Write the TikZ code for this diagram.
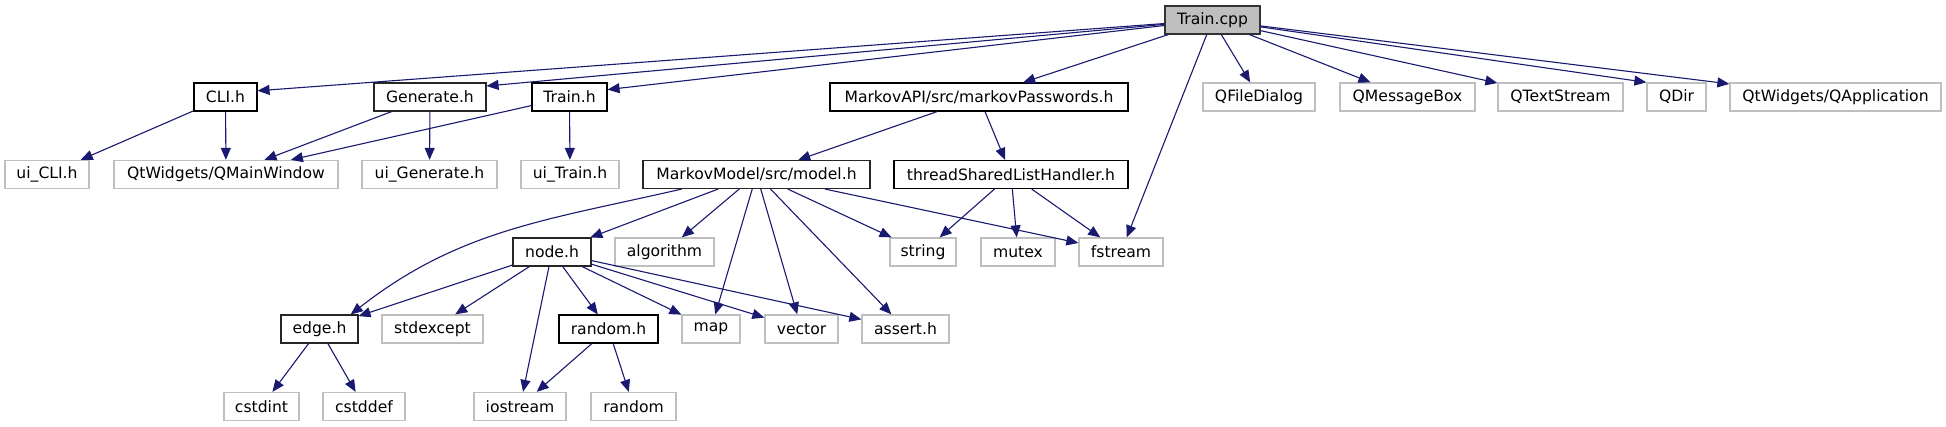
\documentclass[tikz,border=0pt]{standalone}
\usepackage{fontspec}
\setmainfont{DejaVu Sans}
\usepackage{xcolor}
\usetikzlibrary{arrows.meta}

\definecolor{depblue}{HTML}{191970}
\definecolor{sysgrey}{HTML}{BFBFBF}

\begin{document}
\begin{tikzpicture}[
  x=1pt, y=1pt,
  font=\fontsize{15.6}{18}\selectfont,
  every node/.style={inner sep=0pt, minimum height=28pt},
  hdr/.style={draw=black, line width=1.1pt, fill=white},
  hdrg/.style={hdr, draw=black!85},
  sys/.style={draw=sysgrey, line width=1.3pt, fill=white},
  root/.style={draw=black!80, line width=1.1pt, fill=sysgrey},
  dep/.style={-{Triangle[length=12pt,width=10pt]}, line width=1.1pt, depblue},
]
\useasboundingbox (0,0) rectangle (1946,-427);

% ---------------------------------------------------------------- top
\node[root, minimum width=95pt] (train) at (1212.5,-20) {Train.cpp};

% ---------------------------------------------------------------- level 1
\node[hdr,  minimum width=63pt]  (cli)    at (225.5,-97) {CLI.h};
\node[hdrg, minimum width=112pt] (gen)    at (430,-97)   {Generate.h};
\node[hdr,  minimum width=75pt]  (trainh) at (569.5,-97) {Train.h};
\node[hdr,  minimum width=298pt] (mpw)    at (979,-97)   {MarkovAPI/src/markovPasswords.h};
\node[sys,  minimum width=112pt] (qfd)    at (1259,-97)  {QFileDialog};
\node[sys,  minimum width=135pt] (qmb)    at (1407.5,-97) {QMessageBox};
\node[sys,  minimum width=125pt] (qts)    at (1560.5,-97) {QTextStream};
\node[sys,  minimum width=59pt]  (qdir)   at (1676.5,-97) {QDir};
\node[sys,  minimum width=211pt] (qapp)   at (1835.5,-97) {QtWidgets/QApplication};

% ---------------------------------------------------------------- level 2
\node[sys,  minimum width=84pt]  (uicli)   at (47,-174.5)    {ui\_CLI.h};
\node[sys,  minimum width=224pt] (qmw)     at (226,-174.5)   {QtWidgets/QMainWindow};
\node[sys,  minimum width=135pt] (uigen)   at (429.5,-174.5) {ui\_Generate.h};
\node[sys,  minimum width=98pt]  (uitrain) at (570,-174.5)   {ui\_Train.h};
\node[hdrg, minimum width=227pt] (model)   at (756.5,-174.5) {MarkovModel/src/model.h};
\node[hdr,  minimum width=234pt] (tslh)    at (1011,-174.5)  {threadSharedListHandler.h};

% ---------------------------------------------------------------- level 3
\node[hdrg, minimum width=78pt] (node)    at (552,-252)   {node.h};
\node[sys,  minimum width=99pt] (algo)    at (664.5,-252) {algorithm};
\node[sys,  minimum width=66pt] (string)  at (923,-252)   {string};
\node[sys,  minimum width=74pt] (mutex)   at (1018,-252)  {mutex};
\node[sys,  minimum width=84pt] (fstream) at (1121,-252)  {fstream};

% ---------------------------------------------------------------- level 4
\node[hdrg, minimum width=77pt]  (edge)    at (319.5,-329) {edge.h};
\node[sys,  minimum width=101pt] (stdexc)  at (432.5,-329) {stdexcept};
\node[hdr,  minimum width=99pt]  (randh)   at (608.5,-329) {random.h};
\node[sys,  minimum width=58pt]  (map)     at (711,-329)   {map};
\node[sys,  minimum width=73pt]  (vector)  at (801.5,-329) {vector};
\node[sys,  minimum width=87pt]  (assert)  at (905.5,-329) {assert.h};

% ---------------------------------------------------------------- level 5
\node[sys, minimum width=75pt] (cstdint)  at (261.5,-406.5) {cstdint};
\node[sys, minimum width=82pt] (cstddef)  at (364,-406.5)   {cstddef};
\node[sys, minimum width=92pt] (iostream) at (520,-406.5)   {iostream};
\node[sys, minimum width=85pt] (random)   at (633.5,-406.5) {random};

% ---------------------------------------------------------------- includes
\foreach \a/\b in {train/cli.11, train/gen.11, train/trainh.11, train/mpw,
                   train/qfd, train/qmb, train/qts, train/qdir.north west,
                   train/qapp, train/fstream,
                   cli/uicli, cli/qmw, gen/qmw, gen/uigen, trainh/qmw, trainh/uitrain,
                   mpw/model, mpw/tslh,
                   model/node, model/algo, model/map, model/vector, model/assert,
                   model/string, model/fstream,
                   tslh/string, tslh/mutex, tslh/fstream,
                   node/edge, node/stdexc, node/iostream, node/randh, node/map,
                   node/vector, node/assert,
                   randh/iostream, randh/random, edge/cstdint, edge/cstddef}
  \draw[dep] (\a) -- (\b);

\draw[dep] (model.191) to[out=193, in=38] (edge.25);

\end{tikzpicture}
\end{document}
